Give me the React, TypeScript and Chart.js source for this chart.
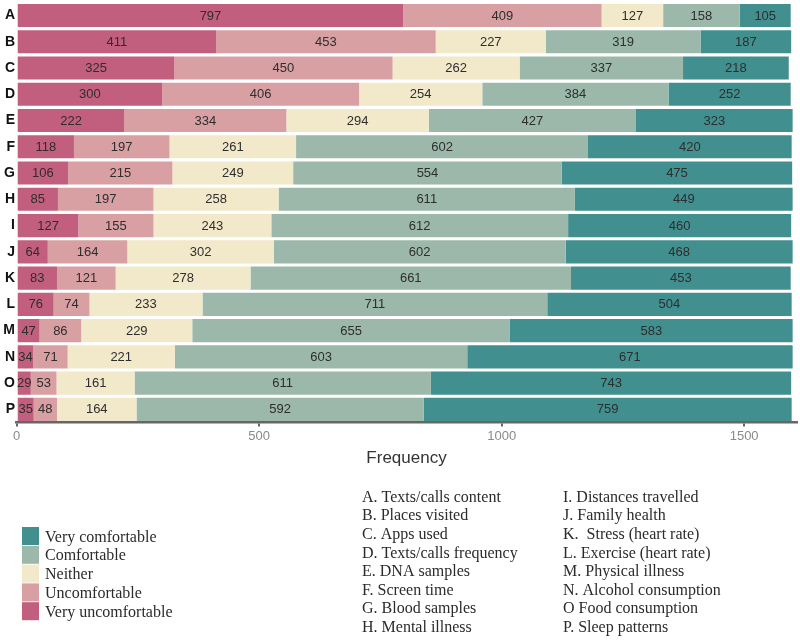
import React, { useEffect, useRef } from "react";
import { Chart, registerables } from "chart.js";

Chart.register(...registerables);

const categories = ["A", "B", "C", "D", "E", "F", "G", "H", "I", "J", "K", "L", "M", "N", "O", "P"];
const categoryNames = [
  "A. Texts/calls content",
  "B. Places visited",
  "C. Apps used",
  "D. Texts/calls frequency",
  "E. DNA samples",
  "F. Screen time",
  "G. Blood samples",
  "H. Mental illness",
  "I. Distances travelled",
  "J. Family health",
  "K.  Stress (heart rate)",
  "L. Exercise (heart rate)",
  "M. Physical illness",
  "N. Alcohol consumption",
  "O Food consumption",
  "P. Sleep patterns",
];
const seriesNames = ["Very uncomfortable", "Uncomfortable", "Neither", "Comfortable", "Very comfortable"];
const seriesColors = ["#C25E7E", "#D8A0A3", "#F2E9CA", "#9BB8AB", "#418F8F"];

const veryUncomfortable = [797, 411, 325, 300, 222, 118, 106, 85, 127, 64, 83, 76, 47, 34, 29, 35];
const uncomfortable = [409, 453, 450, 406, 334, 197, 215, 197, 155, 164, 121, 74, 86, 71, 53, 48];
const neither = [127, 227, 262, 254, 294, 261, 249, 258, 243, 302, 278, 233, 229, 221, 161, 164];
const comfortable = [158, 319, 337, 384, 427, 602, 554, 611, 612, 602, 661, 711, 655, 603, 611, 592];
const veryComfortable = [105, 187, 218, 252, 323, 420, 475, 449, 460, 468, 453, 504, 583, 671, 743, 759];

const xTicks = [0, 500, 1000, 1500];

const SANS = '"Liberation Sans", Arial, sans-serif';
const SERIF = '"Liberation Serif", "Times New Roman", serif';

const segmentLabels = {
  id: "segmentLabels",
  afterDatasetsDraw(chart: any) {
    const ctx = chart.ctx;
    ctx.save();
    ctx.font = `13px ${SANS}`;
    ctx.fillStyle = "#2e2e2e";
    ctx.textAlign = "center";
    ctx.textBaseline = "middle";
    chart.data.datasets.forEach((ds: any, i: number) => {
      const meta = chart.getDatasetMeta(i);
      meta.data.forEach((bar: any, j: number) => {
        const p = bar.getProps(["x", "base", "y"], true);
        ctx.fillText(String(ds.data[j]), (p.x + p.base) / 2, p.y + 0.5);
      });
    });
    ctx.restore();
  },
};

const legendsPlugin = {
  id: "legendsPlugin",
  afterDraw(chart: any) {
    const ctx = chart.ctx;
    ctx.save();
    // colour legend (reversed order: Very comfortable on top)
    const boxX = 22;
    const boxTop = 527;
    const pitch = 18.8;
    ctx.font = `16px ${SERIF}`;
    ctx.textBaseline = "middle";
    ctx.textAlign = "left";
    for (let k = 0; k < seriesNames.length; k++) {
      const idx = seriesNames.length - 1 - k;
      const y = boxTop + k * pitch;
      ctx.fillStyle = seriesColors[idx];
      ctx.fillRect(boxX, y, 17, pitch - 0.8);
      ctx.fillStyle = "#2b2b2b";
      ctx.fillText(seriesNames[idx], 45, y + pitch / 2 + 1);
    }
    // category key
    const rowPitch = 18.63;
    for (let i = 0; i < categoryNames.length; i++) {
      const col = i < 8 ? 0 : 1;
      const row = i % 8;
      const x = col === 0 ? 362 : 563;
      const y = 497.5 + row * rowPitch;
      ctx.fillStyle = "#2b2b2b";
      ctx.fillText(categoryNames[i], x, y);
    }
    ctx.restore();
  },
};

export default function App() {
  const canvasRef = useRef<HTMLCanvasElement | null>(null);

  useEffect(() => {
    if (!canvasRef.current) return;
    Chart.defaults.font.family = SANS;
    const series = [veryUncomfortable, uncomfortable, neither, comfortable, veryComfortable];
    const chart = new Chart(canvasRef.current, {
      type: "bar",
      data: {
        labels: categories,
        datasets: series.map((d, i) => ({
          label: seriesNames[i],
          data: d,
          backgroundColor: seriesColors[i],
          borderWidth: 0,
          categoryPercentage: 1,
          barPercentage: 0.88,
        })),
      },
      options: {
        indexAxis: "y",
        responsive: false,
        animation: false,
        devicePixelRatio: 1,
        layout: { padding: { top: 0.5, left: 0, right: 3, bottom: 168.5 } },
        plugins: {
          legend: { display: false },
          tooltip: { enabled: false },
        },
        scales: {
          x: {
            stacked: true,
            min: -1.5,
            max: 1609,
            afterBuildTicks: (s: any) => {
              s.ticks = xTicks.map((v) => ({ value: v }));
            },
            afterFit: (s: any) => {
              s.height = 50;
            },
            grid: { drawOnChartArea: false, drawTicks: true, tickLength: 4, color: "#666666", lineWidth: 2 },
            border: { display: true, color: "#666666", width: 2.5 },
            ticks: {
              color: "#8a8a8a",
              font: { size: 13, family: SANS },
              padding: 2,
              maxRotation: 0,
              autoSkip: false,
              callback: (v: any) => String(v),
            },
            title: {
              display: true,
              text: "Frequency",
              color: "#333333",
              font: { size: 17, family: SANS },
              padding: { top: 0, bottom: 4 },
            },
          },
          y: {
            stacked: true,
            afterFit: (s: any) => {
              s.width = 16;
            },
            grid: { display: false, drawTicks: false },
            border: { display: false },
            ticks: {
              color: "#111111",
              font: { size: 14, weight: "bold", family: SANS, lineHeight: 0.2 },
              padding: 1,
              autoSkip: false,
            },
          },
        },
      } as any,
      plugins: [segmentLabels, legendsPlugin],
    });
    return () => chart.destroy();
  }, []);

  return (
    <div style={{ position: "absolute", left: 0, top: 0, width: 800, height: 641, background: "#ffffff" }}>
      <canvas ref={canvasRef} width={800} height={641} style={{ display: "block", width: 800, height: 641 }} />
    </div>
  );
}
